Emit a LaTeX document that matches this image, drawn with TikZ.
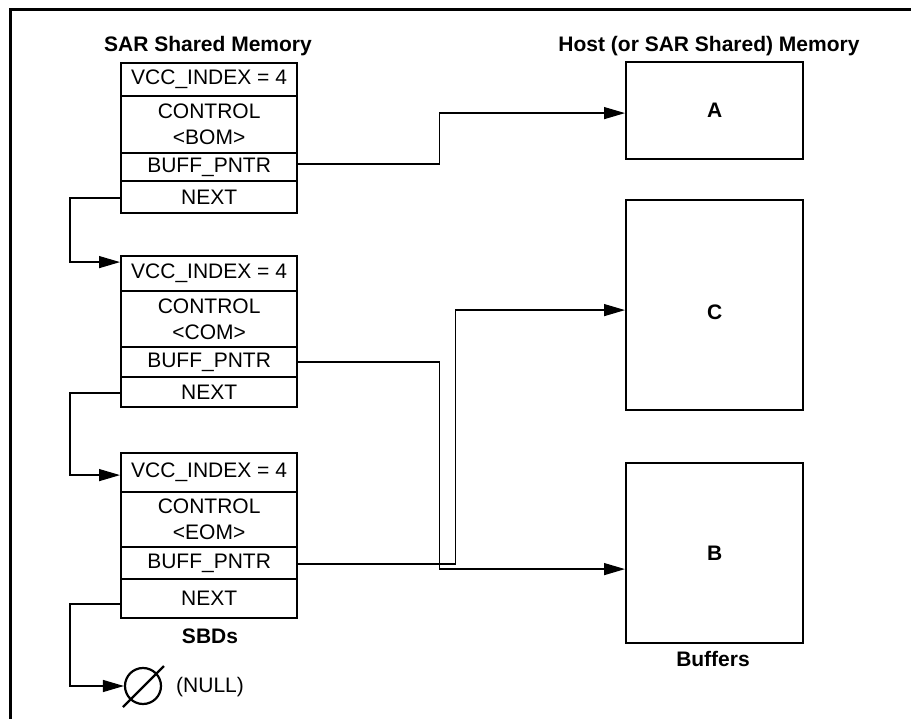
\documentclass[tikz,border=0pt]{standalone}
\usepackage{fontspec}
\setmainfont{Liberation Sans}
\usetikzlibrary{arrows.meta}
\begin{document}
\begin{tikzpicture}[x=1pt,y=-1pt,
  every node/.style={font=\fontsize{21}{26}\selectfont},
  cell/.style={draw,line width=2.2pt,rectangle,anchor=north west,inner sep=0pt,
    minimum width=176pt,align=center},
  buf/.style={draw,line width=2.2pt,rectangle,anchor=north west,inner sep=0pt,
    minimum width=177pt,font=\fontsize{21}{26}\selectfont\bfseries},
  title/.style={font=\fontsize{21}{26}\selectfont\bfseries},
  conn/.style={line width=1.3pt,-{Triangle[length=21pt,width=12pt]}}]
\useasboundingbox (0,0) rectangle (911,719);
% outer frame (top and left edges)
\draw[line width=3pt] (10,719) -- (10,10) -- (911,10);

% titles
\node[title] (t1) at (208,46) {SAR Shared Memory};
\node[title] (t2) at (709,46) {Host (or SAR Shared) Memory};
\node[title] (t3) at (210,636) {SBDs};
\node[title] (t4) at (713,659) {Buffers};

% SBD 1
\node[cell,minimum height=33pt] (s1v) at (120,62) {VCC\_INDEX = 4};
\node[cell,minimum height=57pt] (s1c) at (120,95) {CONTROL\\<BOM>};
\node[cell,minimum height=28pt] (s1buf) at (120,152) {BUFF\_PNTR};
\node[cell,minimum height=32pt] (s1n) at (120,180) {NEXT};

% SBD 2
\node[cell,minimum height=35pt] (s2v) at (120,255) {VCC\_INDEX = 4};
\node[cell,minimum height=56pt] (s2c) at (120,290) {CONTROL\\<COM>};
\node[cell,minimum height=30pt] (s2buf) at (120,346) {BUFF\_PNTR};
\node[cell,minimum height=30pt] (s2n) at (120,376) {NEXT};

% SBD 3
\node[cell,minimum height=39pt] (s3v) at (120,452) {VCC\_INDEX = 4};
\node[cell,minimum height=55pt] (s3c) at (120,491) {CONTROL\\<EOM>};
\node[cell,minimum height=32pt] (s3buf) at (120,546) {BUFF\_PNTR};
\node[cell,minimum height=39pt] (s3n) at (120,578) {NEXT};

% buffers
\node[buf,minimum height=97pt] (A) at (625,61) {A};
\node[buf,minimum height=210pt] (C) at (625,199) {};
\node[title] (Clbl) at ([yshift=-7pt]C.center) {C};
\node[buf,minimum height=180pt] (B) at (625,462) {B};

% NULL symbol
\node[draw,circle,line width=2.2pt,minimum size=36pt,inner sep=0pt] (null) at (143,686) {};
\draw[line width=2.2pt] (123,707) -- (164,666);
\node[anchor=west,inner sep=0pt] (nulltxt) at (176,687) {(NULL)};

% next-pointer chain
\draw[conn] ([yshift=-1pt]s1n.west) -- ++(-50,0) |- ([yshift=11.5pt]s2v.west);
\draw[conn] ([yshift=-1pt]s2n.west) -- ++(-50,0) |- ([yshift=-2.5pt]s3v.west);
\draw[conn] ([yshift=-5.5pt]s3n.west) -- ++(-50,0) |- (null.west);

% buffer pointers
\draw[conn] ([yshift=3pt]s1buf.east) -- ++(141,0) |- ([yshift=-2.5pt]A.west);
\draw[conn] (s2buf.east) -- ++(141,0) |- ([yshift=-16pt]B.west);
\draw[conn] ([yshift=-1pt]s3buf.east) -- ++(157,0) |- ([yshift=-5pt]C.west);
\end{tikzpicture}
\end{document}
